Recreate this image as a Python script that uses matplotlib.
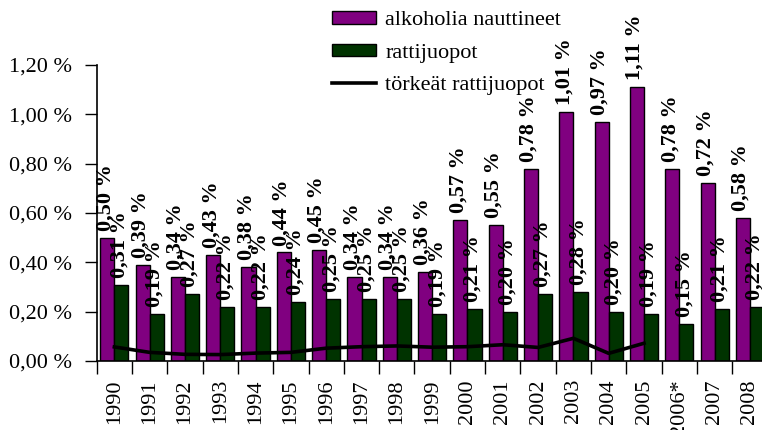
import matplotlib
matplotlib.use("Agg")
import matplotlib.pyplot as plt
import numpy as np
from matplotlib.patches import Patch
from matplotlib.lines import Line2D

years = ["1990", "1991", "1992", "1993", "1994", "1995", "1996", "1997", "1998", "1999",
         "2000", "2001", "2002", "2003", "2004", "2005", "2006*", "2007", "2008"]
alkoholia = [0.50, 0.39, 0.34, 0.43, 0.38, 0.44, 0.45, 0.34, 0.34, 0.36,
             0.57, 0.55, 0.78, 1.01, 0.97, 1.11, 0.78, 0.72, 0.58]
ratti = [0.31, 0.19, 0.27, 0.22, 0.22, 0.24, 0.25, 0.25, 0.25, 0.19,
         0.21, 0.20, 0.27, 0.28, 0.20, 0.19, 0.15, 0.21, 0.22]
torkeat = [0.057, 0.035, 0.027, 0.026, 0.032, 0.035, 0.052, 0.058, 0.061, 0.056,
           0.058, 0.066, 0.055, 0.092, 0.031, 0.072]
yticks = [0.0, 0.2, 0.4, 0.6, 0.8, 1.0, 1.2]
ytick_labels = ["0,00 %", "0,20 %", "0,40 %", "0,60 %", "0,80 %", "1,00 %", "1,20 %"]

plt.rcParams['font.family'] = ['Liberation Serif', 'DejaVu Serif']

purple = '#800080'
green = '#003300'

fig = plt.figure(figsize=(7.62, 4.30), dpi=100)
ax = fig.add_axes([96.7 / 762, (430 - 361) / 430, 670.9 / 762, 296 / 430])

x = np.arange(len(years))
w = 0.4
ax.bar(x - w / 2, alkoholia, width=w, color=purple, edgecolor='black', linewidth=1.0, zorder=2)
ax.bar(x + w / 2, ratti, width=w, color=green, edgecolor='black', linewidth=1.0, zorder=2)
ax.plot(x[:len(torkeat)], torkeat, color='black', linewidth=2.6, zorder=3)

def fmt(v):
    return ("%.2f" % v).replace('.', ',') + " %"

for xi, v in zip(x - w / 2, alkoholia):
    ax.annotate(fmt(v), (xi, v), xytext=(-1.5, 5), textcoords='offset points',
                rotation=90, ha='center', va='bottom', fontsize=16, fontweight='bold',
                zorder=4, annotation_clip=False)
for xi, v in zip(x + w / 2, ratti):
    ax.annotate(fmt(v), (xi, v), xytext=(-1.5, 5), textcoords='offset points',
                rotation=90, ha='center', va='bottom', fontsize=16, fontweight='bold',
                zorder=4, annotation_clip=False)

ax.set_xlim(-0.5, len(years) - 0.5)
ax.set_ylim(0, 1.2)
ax.set_yticks(yticks)
ax.set_yticklabels(ytick_labels, fontsize=16)
ax.set_xticks(np.arange(-0.5, len(years) - 0.5 + 0.01, 1.0))
ax.set_xticklabels([])
ax.set_xticks(x, minor=True)
ax.set_xticklabels(years, minor=True, rotation=90, fontsize=16)
ax.tick_params(axis='x', which='minor', length=0, pad=13)
ax.tick_params(axis='x', which='major', direction='out', length=9, width=1)
ax.tick_params(axis='y', direction='out', length=9, width=1, pad=9)
for s in ['top', 'right']:
    ax.spines[s].set_visible(False)
for s in ['left', 'bottom']:
    ax.spines[s].set_linewidth(1.2)

handles = [Patch(facecolor=purple, edgecolor='black', linewidth=1.0),
           Patch(facecolor=green, edgecolor='black', linewidth=1.0),
           Line2D([0], [0], color='black', linewidth=2.6)]
labels = ["alkoholia nauttineet", "rattijuopot", "törkeät rattijuopot"]
fig.legend(handles, labels, loc='upper left', bbox_to_anchor=(332 / 762, 1 - 11 / 430),
           bbox_transform=fig.transFigure, frameon=False, fontsize=16,
           handlelength=2.0, handleheight=0.5, handletextpad=0.4,
           labelspacing=0.6, borderpad=0, borderaxespad=0)

fig.savefig("out.png", dpi=100)
